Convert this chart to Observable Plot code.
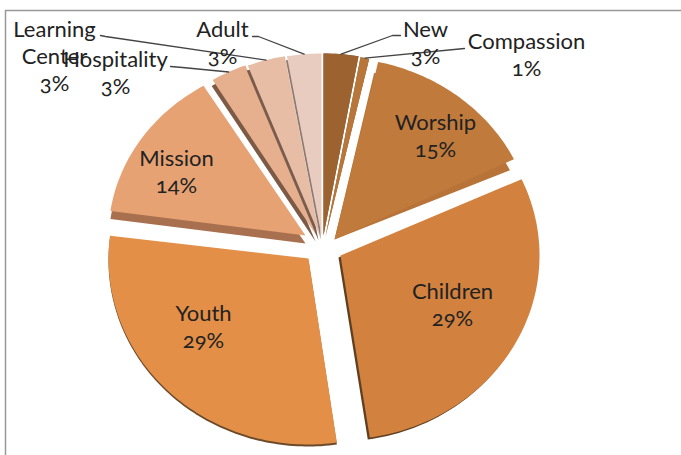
<!DOCTYPE html>
<html>
<head>
<meta charset="utf-8">
<script src="https://cdn.jsdelivr.net/npm/d3@7"></script>
<script src="https://cdn.jsdelivr.net/npm/@observablehq/plot@0.6"></script>
<style>html,body{margin:0;padding:0;background:#fff;overflow:hidden}svg{display:block}</style>
</head>
<body>
<div id="chart"></div>
<script>
// Data, clockwise from 12 o'clock (shares, labels round them)
const categories = ["New", "Compassion", "Worship", "Children", "Youth", "Mission", "Hospitality", "Learning\nCenter", "Adult"];
const shares = [2.8, 0.7, 14.5, 29.4, 29.3, 14.0, 3.1, 3.1, 3.1];
const topColors = ["#9c6230", "#b9763a", "#c07a3c", "#d2813f", "#e38f47", "#e7a274", "#e6af8e", "#e8bda6", "#e9ccc0"];
const sideColors = ["#7a4c26", "#8a5a2e", "#b87438", "#5e3f20", "#6b4a2a", "#a8704f", "#7d5a45", "#7a5c4c", "#8e7a70"];

// Layout of the exploded, tilted pie, in page pixels
const apexX = [323, 325, 334, 340, 308, 305, 316, 319, 321];
const apexY = [235, 236, 239, 255, 258, 235, 235, 235, 235];
const radiusX = [200, 200, 200, 199, 200, 197, 200, 200, 200];
const radiusY = [182, 182, 182, 184, 186, 175, 182, 182, 182];
// Perspective correction of the slice edges, in degrees
const startNudge = [0, 0, 0, 0.7, 1.2, 1.9, 2.2, 1.3, 1.2];
const endNudge = [0, 0, -1, 0.9, 0.9, 2.3, 1.5, 1.2, 0];
const sideDx = [0, 0, -4, -2, 0, 0, -1, -1, -1];
const sideDy = [0, 0, 11, 2, 2, 8, 6, 5, 4];
const sideApexMoves = [1, 1, 0, 1, 1, 1, 1, 1, 1];
const labelX = [425, 526, 435, 452, 203, 176, 115, 54, 222];
const labelY = [41.5, 53, 134.5, 303.5, 325, 170, 71.5, 55, 41.5];
const elbowX = [392, 464, null, null, null, null, 182, 105, 258];
const elbowY = [35, 48, null, null, null, null, 67, 36, 36];
const leaderX = [400, 464, null, null, null, null, 170, 100, 252];
const leaderY = [35, 48, null, null, null, null, 66, 35, 36];

const total = d3.sum(shares);
const rad = Math.PI / 180;
let running = 0;
const slices = categories.map((category, i) => {
  const a0 = running / total * 2 * Math.PI + startNudge[i] * rad;
  running += shares[i];
  const a1 = running / total * 2 * Math.PI + endNudge[i] * rad;
  return {category, i, a0, a1, share: shares[i]};
});
const at = (s, a) => ({
  x: apexX[s.i] + radiusX[s.i] * Math.sin(a),
  y: apexY[s.i] - radiusY[s.i] * Math.cos(a)
});
const arc = (s) => {
  const n = Math.max(2, Math.ceil((s.a1 - s.a0) / 0.02));
  return d3.range(n + 1).map(k => at(s, s.a0 + (s.a1 - s.a0) * k / n));
};
const tops = slices.flatMap(s => [{x: apexX[s.i], y: apexY[s.i]}, ...arc(s)].map(p => ({...p, category: s.category})));
const sides = slices.flatMap(s => [
  {x: apexX[s.i] + sideDx[s.i] * sideApexMoves[s.i], y: apexY[s.i] + sideDy[s.i] * sideApexMoves[s.i]},
  ...arc(s).map(p => ({x: p.x + sideDx[s.i], y: p.y + sideDy[s.i]}))
].map(p => ({...p, category: s.category, side: sideColors[s.i]})));
const texts = slices.map(s => ({
  x: labelX[s.i], y: labelY[s.i],
  text: `${s.category}\n${Math.round(s.share)}%`
}));
const leaders = slices.filter(s => leaderX[s.i] != null).flatMap(s => {
  const end = at(s, (s.a0 + s.a1) / 2);
  return [
    {x: leaderX[s.i], y: leaderY[s.i], category: s.category},
    {x: elbowX[s.i], y: elbowY[s.i], category: s.category},
    {x: end.x, y: end.y, category: s.category}
  ];
});

const chart = Plot.plot({
  width: 681,
  height: 455,
  margin: 0,
  x: {domain: [0, 681], range: [0, 681], axis: null},
  y: {domain: [0, 455], range: [0, 455], axis: null},
  color: {domain: categories, range: topColors},
  style: {background: "#fff"},
  marks: [
    Plot.ruleX([5], {y1: 10, y2: 455, stroke: "#999", strokeWidth: 1.5}),
    Plot.ruleY([10], {x1: 5, x2: 681, stroke: "#999", strokeWidth: 1.5}),
    ...slices.flatMap(s => [
      Plot.line(sides.filter(p => p.category === s.category), {x: "x", y: "y", z: "category", fill: {value: "side", scale: null}, stroke: null, curve: "linear-closed"}),
      Plot.line(tops.filter(p => p.category === s.category), {x: "x", y: "y", z: "category", fill: "category", stroke: null, curve: "linear-closed"})
    ]),
    Plot.line(leaders, {x: "x", y: "y", z: "category", stroke: "#444", strokeWidth: 1.3}),
    Plot.text(texts, {
      x: "x", y: "y", text: "text", fill: "#222",
      fontFamily: "Lato", fontSize: 22, lineHeight: 1.23,
      textAnchor: "middle", fontVariant: "oldstyle-nums"
    })
  ]
});
document.getElementById("chart").append(chart);
</script>
</body>
</html>
